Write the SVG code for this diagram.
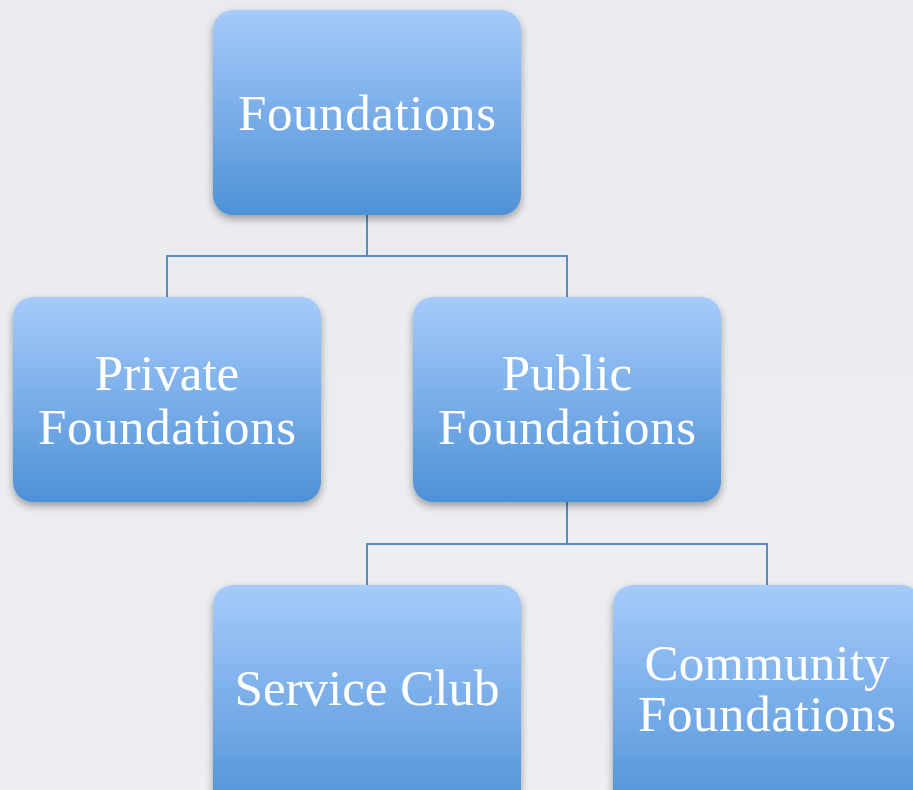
<svg xmlns="http://www.w3.org/2000/svg" width="913" height="790" viewBox="0 0 913 790">
<defs>
<linearGradient id="bg" x1="0" y1="0" x2="0" y2="1"><stop offset="0" stop-color="#e9ebee"/><stop offset="1" stop-color="#eeeff2"/></linearGradient>
<linearGradient id="box" x1="0" y1="0" x2="0" y2="1"><stop offset="0" stop-color="#a6cbfb"/><stop offset="0.5" stop-color="#7aaee9"/><stop offset="1" stop-color="#4e91d6"/></linearGradient>
<filter id="sh" x="-10%" y="-10%" width="120%" height="125%"><feGaussianBlur in="SourceAlpha" stdDeviation="4"/><feOffset dy="4"/><feComponentTransfer><feFuncA type="linear" slope="0.35"/></feComponentTransfer><feMerge><feMergeNode/><feMergeNode in="SourceGraphic"/></feMerge></filter>
</defs>
<style>
.b{fill:url(#box);filter:url(#sh)}
.t{font-family:"Liberation Serif","DejaVu Serif",serif;font-size:51px;fill:#ffffff;text-anchor:middle}
.c{fill:none;stroke:#5a8bc2;stroke-width:2}
</style>
<rect width="913" height="790" fill="url(#bg)"/>
<g id="connectors">
<path class="c" d="M367 215V256M167 298V256H567V298"/>
<path class="c" d="M567 502V544M367 586V544H767V586"/>
</g>
<g id="n-foundations"><rect class="b" x="213" y="10" width="308" height="205" rx="20"/><text class="t" x="367" y="130" textLength="258" lengthAdjust="spacing">Foundations</text></g>
<g id="n-private"><rect class="b" x="13" y="297" width="308" height="205" rx="20"/><text class="t" x="167" y="390">Private</text><text class="t" x="167" y="444" textLength="258" lengthAdjust="spacing">Foundations</text></g>
<g id="n-public"><rect class="b" x="413" y="297" width="308" height="205" rx="20"/><text class="t" x="567" y="390">Public</text><text class="t" x="567" y="444" textLength="258" lengthAdjust="spacing">Foundations</text></g>
<g id="n-service"><rect class="b" x="213" y="585" width="308" height="230" rx="20"/><text class="t" x="367" y="705">Service Club</text></g>
<g id="n-community"><rect class="b" x="613" y="585" width="308" height="230" rx="20"/><text class="t" x="767" y="680" textLength="245" lengthAdjust="spacing">Community</text><text class="t" x="767" y="731" textLength="258" lengthAdjust="spacing">Foundations</text></g>
</svg>
